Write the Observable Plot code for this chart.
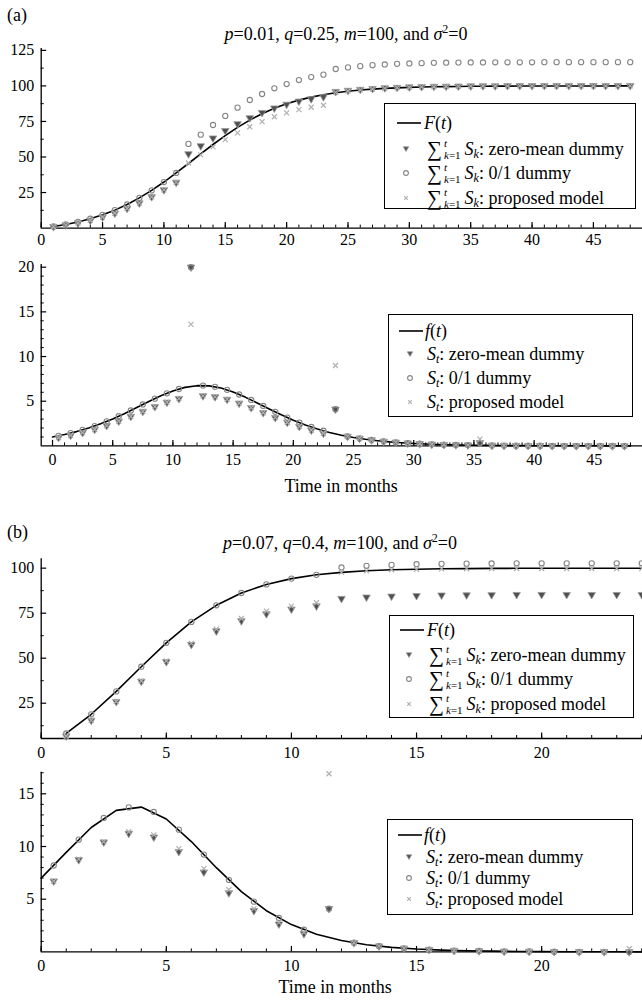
<!DOCTYPE html>
<html><head><meta charset="utf-8">
<script src="https://cdn.jsdelivr.net/npm/d3@7"></script>
<script src="https://cdn.jsdelivr.net/npm/@observablehq/plot@0.6"></script>
<style>
body{margin:0;background:#fff;}
#wrap{position:relative;width:642px;height:1000px;overflow:hidden;font-family:'Liberation Serif','Times New Roman',serif;color:#000;}
.pan{position:absolute;left:0;}
.txt{position:absolute;white-space:nowrap;font-size:18px;line-height:18px;}
.legend{position:absolute;border:1.3px solid #000;background:#fff;box-sizing:border-box;font-size:18px;}
.row{position:absolute;white-space:nowrap;line-height:18px;display:flex;align-items:center;height:18px;}
.sym{position:absolute;}
.sig{font-size:21px;line-height:18px;}
.lim{display:inline-flex;flex-direction:column;font-size:11px;margin:0 4px 0 2px;}
.lim span{line-height:12.4px;height:12.4px;display:block;}
sub{font-size:12px;vertical-align:-3px;line-height:0;}
sup{font-size:12px;vertical-align:7px;line-height:0;}
</style></head>
<body><div id="wrap"></div>
<script>
// ---------- Panel (a): p=0.01, q=0.25 ----------
const tA = [1,2,3,4,5,6,7,8,9,10,11,12,13,14,15,16,17,18,19,20,21,22,23,24,25,26,27,28,29,30,31,32,33,34,35,36,37,38,39,40,41,42,43,44,45,46,47,48];
const FA = [1.13,2.56,4.35,6.57,9.31,12.63,16.59,21.23,26.52,32.40,38.77,45.43,52.18,58.79,65.06,70.81,75.95,80.42,84.23,87.39,90.00,92.12,93.82,95.17,96.23,97.07,97.73,98.24,98.64,98.95,99.19,99.37,99.51,99.62,99.71,99.78,99.83,99.87,99.90,99.92,99.94,99.95,99.96,99.97,99.98,99.98,99.99,99.99];
const cumZeroA = [0.94,2.12,3.61,5.45,7.73,10.48,13.77,17.62,22.01,26.89,32.18,52.2,57.8,63.3,68.5,73.3,77.5,81.2,84.4,87.0,89.2,90.9,92.3,96.0,96.8,97.5,98.1,98.6,98.9,99.2,99.4,99.6,99.7,99.8,99.9,100.0,100.0,100.1,100.1,100.1,100.2,100.2,100.2,100.2,100.2,100.2,100.2,100.2];
const cumDummyA = [1.13,2.56,4.35,6.57,9.31,12.63,16.59,21.23,26.52,32.40,38.77,59.2,65.7,72.5,78.9,84.7,90.1,94.3,98.3,101.3,104.1,106.2,107.9,111.9,113.0,113.9,114.6,115.1,115.5,115.8,116.0,116.2,116.3,116.4,116.5,116.5,116.6,116.6,116.6,116.6,116.7,116.7,116.7,116.7,116.7,116.7,116.7,116.7];
const cumPropA = [0.94,2.12,3.61,5.45,7.73,10.48,13.77,17.62,22.01,26.89,32.18,45.8,51.5,57.1,62.2,67.0,71.3,74.9,78.3,81.0,83.3,85.0,86.4,95.4,96.4,97.2,97.8,98.3,98.7,99.0,99.3,99.4,99.6,99.7,99.8,99.9,99.9,100.0,100.0,100.0,100.0,100.0,100.0,100.0,100.0,100.0,100.0,100.0];

const tLineA2 = [0,1,2,3,4,5,6,7,8,9,10,11,12,13,14,15,16,17,18,19,20,21,22,23,24,25,26,27,28,29,30,31,32,33,34,35,36,37,38,39,40,41,42,43,44,45,46,47,48];
const fA = [1.00,1.27,1.60,2.00,2.47,3.02,3.63,4.29,4.97,5.61,6.15,6.55,6.74,6.72,6.47,6.03,5.46,4.81,4.13,3.48,2.88,2.35,1.89,1.51,1.20,0.94,0.74,0.58,0.45,0.35,0.27,0.21,0.16,0.13,0.10,0.08,0.06,0.05,0.03,0.03,0.02,0.02,0.01,0.01,0.01,0.01,0,0,0];
const tPtsA2 = [0.5,1.5,2.5,3.5,4.5,5.5,6.5,7.5,8.5,9.5,10.5,11.5,12.5,13.5,14.5,15.5,16.5,17.5,18.5,19.5,20.5,21.5,22.5,23.5,24.5,25.5,26.5,27.5,28.5,29.5,30.5,31.5,32.5,33.5,34.5,35.5,36.5,37.5,38.5,39.5,40.5,41.5,42.5,43.5,44.5,45.5,46.5,47.5];
const sZeroA = [0.94,1.18,1.49,1.84,2.27,2.76,3.29,3.85,4.39,4.88,5.29,20.0,5.60,5.49,5.20,4.77,4.27,3.71,3.16,2.62,2.17,1.76,1.41,4.1,1.06,0.84,0.66,0.51,0.40,0.31,0.24,0.18,0.14,0.11,0.09,0.35,0.05,0.04,0.03,0.02,0.02,0.01,0.01,0.01,0.01,0,0,0];
const sDummyA = [1.13,1.43,1.79,2.22,2.74,3.32,3.96,4.64,5.29,5.88,6.37,20.0,6.75,6.61,6.27,5.75,5.14,4.47,3.81,3.16,2.61,2.12,1.70,4.1,1.06,0.84,0.66,0.51,0.40,0.31,0.24,0.18,0.14,0.11,0.09,0.30,0.05,0.04,0.03,0.02,0.02,0.01,0.01,0.01,0.01,0,0,0];
const sPropA = [0.94,1.18,1.49,1.84,2.27,2.76,3.29,3.85,4.39,4.88,5.29,13.6,5.60,5.49,5.20,4.77,4.27,3.71,3.16,2.62,2.17,1.76,1.41,9.0,1.06,0.84,0.66,0.51,0.40,0.31,0.24,0.18,0.14,0.11,0.09,0.75,0.05,0.04,0.03,0.02,0.02,0.01,0.01,0.01,0.01,0,0,0];

// ---------- Panel (b): p=0.07, q=0.4 ----------
const tB = [1,2,3,4,5,6,7,8,9,10,11,12,13,14,15,16,17,18,19,20,21,22,23,24];
const FB = [8.20,18.85,31.56,45.27,58.55,70.15,79.38,86.21,90.98,94.20,96.30,97.66,98.53,99.08,99.42,99.64,99.77,99.86,99.91,99.95,99.97,99.98,99.99,99.99];
const cumZeroB = [6.72,15.46,25.88,37.12,48.01,57.52,65.09,70.69,74.60,77.24,78.96,83.1,83.9,84.4,84.7,85.0,85.1,85.2,85.3,85.3,85.3,85.3,85.3,85.3];
const cumDummyB = [8.20,18.85,31.56,45.27,58.55,70.15,79.38,86.21,90.98,94.20,96.30,100.4,101.3,101.8,102.2,102.4,102.5,102.6,102.7,102.7,102.7,102.7,102.7,102.7];
const cumPropB = [6.7,15.5,25.95,37.35,48.45,58.25,66.15,72.05,76.15,78.95,80.8,97.7,98.5,99.1,99.4,99.6,99.7,99.8,99.8,99.8,99.8,99.8,99.8,99.8];

const tLineB2 = [0,1,2,3,4,5,6,7,8,9,10,11,12,13,14,15,16,17,18,19,20,21,22,23,24];
const fB = [7.00,9.44,11.80,13.43,13.74,12.61,10.47,7.99,5.72,3.91,2.59,1.68,1.08,0.68,0.43,0.27,0.17,0.11,0.07,0.04,0.03,0.02,0.01,0.01,0];
const tPtsB2 = [0.5,1.5,2.5,3.5,4.5,5.5,6.5,7.5,8.5,9.5,10.5,11.5,12.5,13.5,14.5,15.5,16.5,17.5,18.5,19.5,20.5,21.5,22.5,23.5];
const sZeroB = [6.72,8.74,10.42,11.24,10.89,9.51,7.57,5.60,3.91,2.64,1.72,4.1,0.87,0.55,0.34,0.22,0.13,0.09,0.05,0.04,0.02,0.01,0.01,0];
const sDummyB = [8.20,10.65,12.71,13.71,13.28,11.60,9.23,6.83,4.77,3.22,2.10,4.1,0.87,0.55,0.34,0.22,0.13,0.09,0.05,0.04,0.02,0.01,0.01,0];
const sPropB = [6.7,8.8,10.45,11.4,11.1,9.8,7.9,5.9,4.1,2.8,1.85,16.9,0.87,0.55,0.34,0.22,0.13,0.09,0.05,0.04,0.02,0.01,0.01,0.3];

// ---------- axis tick values ----------
const xMajorA = [0,5,10,15,20,25,30,35,40,45];
const xMinorA = d3.range(0, 50, 1);
const xMajorB = [0,5,10,15,20];
const xMinorB = d3.range(0, 25, 1);
const yMajorA1 = [25,50,75,100,125], yMinorA1 = [12.5,37.5,62.5,87.5,112.5];
const yMajorA2 = [5,10,15,20], yMinorA2 = [1,2,3,4,6,7,8,9,11,12,13,14,16,17,18,19];
const yMajorB1 = [25,50,75,100], yMinorB1 = [12.5,37.5,62.5,87.5];
const yMajorB2 = [5,10,15], yMinorB2 = [1,2,3,4,6,7,8,9,11,12,13,14,16,17];

const wrap = document.getElementById("wrap");
const W = 642, ML = 40.7;

function zip(xs, ys){ return xs.map((x,i)=>({x, y: ys[i]})); }

function panel(o){
  const plotW = W - ML - 0;
  const plotH = o.height - o.mt - o.mb;
  const svg = Plot.plot({
    width: W, height: o.height,
    marginLeft: ML, marginRight: 0, marginTop: o.mt, marginBottom: o.mb,
    style: {fontFamily: "'Liberation Serif','Times New Roman',serif", fontSize: "16px", background: "transparent", overflow: "visible"},
    x: {domain: o.xDomain, ticks: o.xMajor, tickSize: 0, tickPadding: o.xPad, label: null},
    y: {domain: o.yDomain, ticks: o.yMajor, tickSize: 0, tickPadding: 7, label: null},
    marks: [
      Plot.ruleY([o.yDomain[0]], {stroke: "#000", strokeWidth: 1.3}),
      Plot.ruleX([o.xDomain[0]], {stroke: "#000", strokeWidth: 1.3}),
      Plot.tickX(o.xMinor, {x: d=>d, insetTop: plotH - 3, stroke: "#000", strokeWidth: 1}),
      Plot.tickX(o.xMajor, {x: d=>d, insetTop: plotH - 5.5, stroke: "#000", strokeWidth: 1.2}),
      Plot.tickY(o.yMinor, {y: d=>d, insetRight: plotW - 3, stroke: "#000", strokeWidth: 1}),
      Plot.tickY(o.yMajor, {y: d=>d, insetRight: plotW - 5.5, stroke: "#000", strokeWidth: 1.2}),
      Plot.line(o.line, {x: "x", y: "y", stroke: "#000", strokeWidth: 1.6}),
      Plot.dot(o.tri, {x: "x", y: "y", symbol: "triangle", rotate: 180, r: 2.8, fill: "#505050", stroke: "#9a9a9a", strokeWidth: 0.8}),
      Plot.dot(o.circ, {x: "x", y: "y", symbol: "circle", r: 2.6, fill: "none", stroke: "#858585", strokeWidth: 1.1}),
      Plot.dot(o.cross, {x: "x", y: "y", symbol: "times", r: 2.4, stroke: "#b0b0b0", strokeWidth: 1.2})
    ]
  });
  svg.classList.add("pan");
  svg.style.top = o.top + "px";
  wrap.appendChild(svg);
}

panel({top: 0, height: 255, mt: 48, mb: 27.4, xDomain: [0, 49], yDomain: [0, 126.3], xPad: 6,
  xMajor: xMajorA, xMinor: xMinorA, yMajor: yMajorA1, yMinor: yMinorA1,
  line: zip(tA, FA), tri: zip(tA, cumZeroA), circ: zip(tA, cumDummyA), cross: zip(tA, cumPropA)});
panel({top: 250, height: 230, mt: 14, mb: 34.6, xDomain: [-0.94, 49], yDomain: [0, 20.3], xPad: 8,
  xMajor: xMajorA, xMinor: xMinorA, yMajor: yMajorA2, yMinor: yMinorA2,
  line: zip(tLineA2, fA), tri: zip(tPtsA2, sZeroA), circ: zip(tPtsA2, sDummyA), cross: zip(tPtsA2, sPropA)});
panel({top: 545, height: 215, mt: 13.3, mb: 22, xDomain: [0, 24.03], yDomain: [5.4, 105.2], xPad: 8,
  xMajor: xMajorB, xMinor: xMinorB, yMajor: yMajorB1, yMinor: yMinorB1,
  line: zip(tB, FB), tri: zip(tB, cumZeroB), circ: zip(tB, cumDummyB), cross: zip(tB, cumPropB)});
panel({top: 762, height: 225, mt: 9.7, mb: 35.6, xDomain: [0, 24.03], yDomain: [0, 17.05], xPad: 8,
  xMajor: xMajorB, xMinor: xMinorB, yMajor: yMajorB2, yMinor: yMinorB2,
  line: zip(tLineB2, fB), tri: zip(tPtsB2, sZeroB), circ: zip(tPtsB2, sDummyB), cross: zip(tPtsB2, sPropB)});

// ---------- texts ----------
function addText(html, left, top){
  const d = document.createElement("div");
  d.className = "txt"; d.innerHTML = html;
  d.style.left = left + "px"; d.style.top = top + "px";
  wrap.appendChild(d);
  return d;
}
function addCentered(html, cx, top){
  const d = addText(html, 0, top);
  d.style.left = (cx - d.offsetWidth/2) + "px";
}
addText("(a)", 7, 6);
addCentered("<i>p</i>=0.01, <i>q</i>=0.25, <i>m</i>=100, and <i>σ</i><sup>2</sup>=0", 346, 25);
addCentered("Time in months", 341, 477);
addText("(b)", 7, 523);
addCentered("<i>p</i>=0.07, <i>q</i>=0.4, <i>m</i>=100, and <i>σ</i><sup>2</sup>=0", 340, 534);
addCentered("Time in months", 335, 978);

// ---------- legends ----------
const sigma = '<span class="sig">∑</span><span class="lim"><span><i>t</i></span><span><i>k</i>=1</span></span><span><i>S</i><sub><i>k</i></sub></span>';
const st = '<span><i>S</i><sub><i>t</i></sub></span>';
const legendA1 = ["<span><i>F</i>(<i>t</i>)</span>", sigma + "<span>: zero-mean dummy</span>", sigma + "<span>: 0/1 dummy</span>", sigma + "<span>: proposed model</span>"];
const legendA2 = ["<span><i>f</i>(<i>t</i>)</span>", st + "<span>: zero-mean dummy</span>", st + "<span>: 0/1 dummy</span>", st + "<span>: proposed model</span>"];

const symSvg = {
  line: '<svg width="24" height="6"><line x1="0" y1="3" x2="24" y2="3" stroke="#000" stroke-width="1.6"/></svg>',
  tri: '<svg width="8" height="8"><path d="M1.3,1.8 L6.7,1.8 L4,6.5 Z" fill="#505050" stroke="#9a9a9a" stroke-width="0.8"/></svg>',
  circ: '<svg width="8" height="8"><circle cx="4" cy="4" r="2.4" fill="none" stroke="#858585" stroke-width="1.1"/></svg>',
  cross: '<svg width="8" height="8"><path d="M2.2,2.2 L5.8,5.8 M5.8,2.2 L2.2,5.8" stroke="#b0b0b0" stroke-width="1.2"/></svg>'
};

function legend(o){
  const box = document.createElement("div");
  box.className = "legend";
  Object.assign(box.style, {left: o.left + "px", top: o.top + "px", width: o.w + "px", height: o.h + "px"});
  const syms = ["line", "tri", "circ", "cross"];
  o.labels.forEach((lab, i) => {
    const s = document.createElement("div");
    s.className = "sym"; s.innerHTML = symSvg[syms[i]];
    const y = o.rows[i];
    if (i === 0){ s.style.left = o.lineX + "px"; s.style.top = (y - 3) + "px"; s.style.height = "6px"; }
    else { s.style.left = (o.markX - 4) + "px"; s.style.top = (y - 4) + "px"; s.style.height = "8px"; }
    s.style.lineHeight = "0";
    box.appendChild(s);
    const r = document.createElement("div");
    r.className = "row"; r.innerHTML = lab;
    r.style.left = (i === 0 ? o.text0X : o.textX) + "px";
    r.style.top = (y - 9) + "px";
    box.appendChild(r);
  });
  wrap.appendChild(box);
}
legend({left: 384, top: 103, w: 252, h: 106, labels: legendA1, rows: [19, 45, 69, 94], lineX: 12, text0X: 39, markX: 21, textX: 42});
legend({left: 388, top: 314, w: 245, h: 103, labels: legendA2, rows: [16, 39, 63, 87], lineX: 10, text0X: 36, markX: 21, textX: 38});
legend({left: 389, top: 615, w: 245, h: 103, labels: legendA1, rows: [14, 39, 63, 88], lineX: 10, text0X: 37, markX: 19, textX: 39});
legend({left: 387, top: 819, w: 246, h: 96, labels: legendA2, rows: [15, 37, 58, 79], lineX: 10, text0X: 36, markX: 21, textX: 38});
</script>
</body></html>
